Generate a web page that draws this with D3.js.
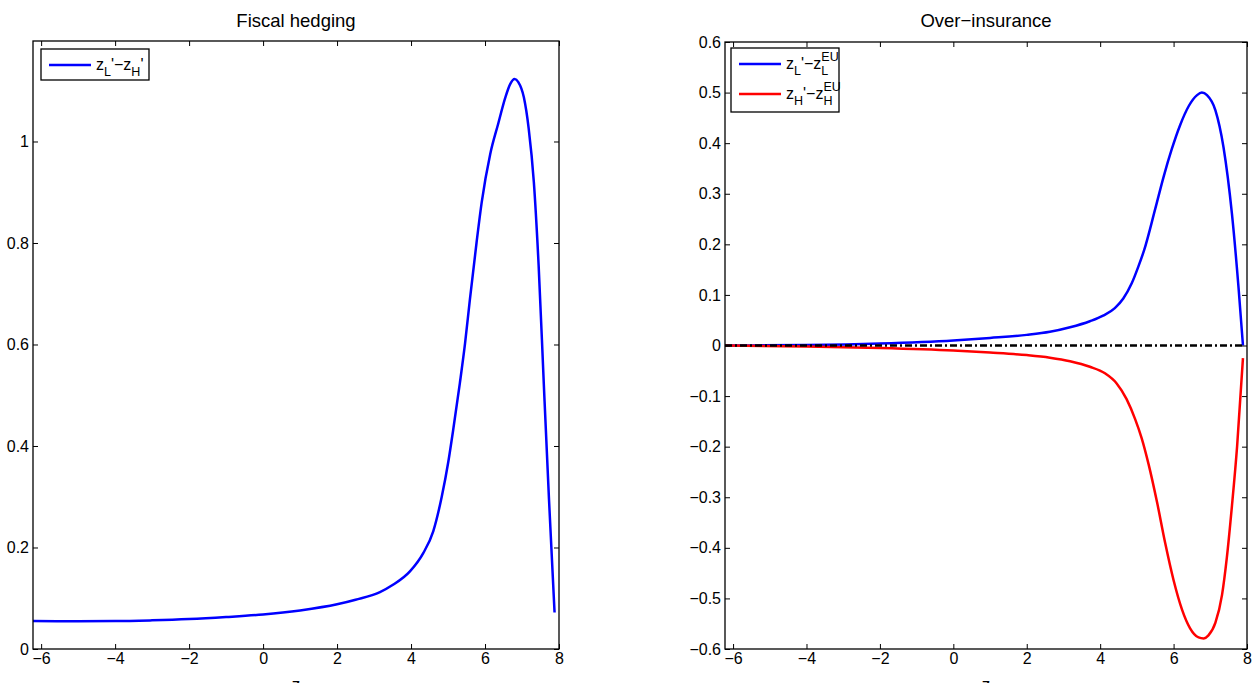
<!DOCTYPE html>
<html>
<head>
<meta charset="utf-8">
<script src="https://cdn.jsdelivr.net/npm/d3@7"></script>
<style>
  body { margin: 0; background: #fff; }
  text { font-family: "Liberation Sans", Arial, sans-serif; }
</style>
</head>
<body>
<div id="chart"></div>
<script>
var W = 1253, H = 683

// left panel: z_L' - z_H'
var zHedge = [-6.22, -5, -4, -3, -2, -1, 0, 1, 2, 2.5, 3.16, 3.5, 3.97, 4.33, 4.6, 4.83, 5.01, 5.14, 5.32, 5.46, 5.59, 5.77, 5.91, 6.14, 6.36, 6.55, 6.68, 6.8, 6.9, 7.05, 7.18, 7.32, 7.45, 7.59, 7.73, 7.88]
var hedge = [0.055, 0.0548, 0.055, 0.0565, 0.059, 0.063, 0.068, 0.076, 0.088, 0.097, 0.112, 0.126, 0.153, 0.189, 0.232, 0.30, 0.37, 0.432, 0.524, 0.602, 0.688, 0.80, 0.88, 0.975, 1.036, 1.087, 1.113, 1.123, 1.117, 1.087, 1.026, 0.92, 0.755, 0.521, 0.294, 0.072]

// right panel: z_L' - z_L^EU (blue)
var zOverL = [-6.22, -4, -2, 0, 1, 2, 2.63, 3.18, 3.72, 4.08, 4.4, 4.63, 4.86, 5.04, 5.2, 5.5, 5.73, 5.95, 6.18, 6.41, 6.64, 6.77, 6.91, 7.14, 7.36, 7.59, 7.77, 7.89]
var overL = [0.000, 0.001, 0.004, 0.010, 0.015, 0.021, 0.027, 0.036, 0.048, 0.059, 0.074, 0.093, 0.123, 0.156, 0.189, 0.27, 0.334, 0.388, 0.436, 0.473, 0.495, 0.5, 0.495, 0.465, 0.392, 0.26, 0.114, 0]

// right panel: z_H' - z_H^EU (red)
var zOverH = [-6.22, -4, -2, 0, 1, 2, 2.63, 3.18, 3.72, 4.13, 4.45, 4.72, 4.95, 5.13, 5.32, 5.55, 5.77, 6, 6.23, 6.45, 6.68, 6.82, 6.95, 7.14, 7.32, 7.45, 7.59, 7.73, 7.89]
var overH = [0, -0.002, -0.005, -0.010, -0.014, -0.019, -0.024, -0.031, -0.042, -0.055, -0.075, -0.106, -0.145, -0.183, -0.235, -0.31, -0.39, -0.464, -0.522, -0.559, -0.577, -0.579, -0.573, -0.548, -0.493, -0.42, -0.317, -0.2, -0.025]

// zero reference line
var zZero = [-6.22, 7.89]
var zero = [0, 0]

var xTicks = [-6, -4, -2, 0, 2, 4, 6, 8]
var yTicksLeft = [0, 0.2, 0.4, 0.6, 0.8, 1]
var yTicksRight = [-0.6, -0.5, -0.4, -0.3, -0.2, -0.1, 0, 0.1, 0.2, 0.3, 0.4, 0.5, 0.6]

var svg = d3.select("#chart").append("svg")
  .attr("width", W)
  .attr("height", H)

function pairs(xs, ys) {
  return xs.map(function(x, i) { return [x, ys[i]] })
}

var fmt = d3.format("~g")

function panel(opt) {
  var g = svg.append("g")
  var x = d3.scaleLinear().domain([-6.22, 8]).range([opt.left, opt.right])
  var y = d3.scaleLinear().domain(opt.ydom).range([opt.bottom, opt.top])

  var line = d3.line()
    .x(function(d) { return x(d[0]) })
    .y(function(d) { return y(d[1]) })
    .curve(d3.curveMonotoneX)

  opt.series.forEach(function(s) {
    g.append("path")
      .attr("d", line(pairs(s.x, s.y)))
      .attr("fill", "none")
      .attr("stroke", s.color)
      .attr("stroke-width", 2.5)
      .attr("stroke-dasharray", s.dash || null)
  })

  // axes, ticks pointing inward on all four sides
  var ax = [
    g.append("g").attr("transform", "translate(0," + opt.bottom + ")")
      .call(d3.axisBottom(x).tickValues(xTicks).tickSize(-5).tickPadding(4).tickFormat(fmt)),
    g.append("g").attr("transform", "translate(0," + opt.top + ")")
      .call(d3.axisTop(x).tickValues(xTicks).tickSize(-5).tickFormat("")),
    g.append("g").attr("transform", "translate(" + opt.left + ",0)")
      .call(d3.axisLeft(y).tickValues(opt.yticks).tickSize(-5).tickPadding(4).tickFormat(fmt)),
    g.append("g").attr("transform", "translate(" + opt.right + ",0)")
      .call(d3.axisRight(y).tickValues(opt.yticks).tickSize(-5).tickFormat(""))
  ]
  ax.forEach(function(a) {
    a.select(".domain").remove()
    a.selectAll("text").attr("font-size", 16).attr("fill", "#000")
      .style("font-family", "Liberation Sans, Arial, sans-serif")
    a.selectAll("line").attr("stroke", "#000")
  })

  g.append("rect")
    .attr("x", opt.left).attr("y", opt.top)
    .attr("width", opt.right - opt.left).attr("height", opt.bottom - opt.top)
    .attr("fill", "none").attr("stroke", "#000").attr("stroke-width", 1.3)

  var cx = (opt.left + opt.right) / 2
  g.append("text").attr("x", cx).attr("y", 27)
    .attr("text-anchor", "middle").attr("font-size", 18.5).text(opt.title)
  g.append("text").attr("x", cx).attr("y", 690)
    .attr("text-anchor", "middle").attr("font-size", 17).text("z")

  // legend
  var lg = g.append("g")
  var L = opt.legend
  lg.append("rect")
    .attr("x", L.x).attr("y", L.y).attr("width", L.w).attr("height", L.h)
    .attr("fill", "#fff").attr("stroke", "#000").attr("stroke-width", 1.3)
  L.items.forEach(function(it, i) {
    var ly = L.y + 16 + i * 30
    var lx = L.x + 8
    lg.append("line")
      .attr("x1", lx).attr("x2", lx + 42)
      .attr("y1", ly).attr("y2", ly)
      .attr("stroke", it.color).attr("stroke-width", 2.5)
    label(lg, lx + 47, ly + 5, it.parts)
  })
}

// draws a tex-like label from pieces
function label(g, x0, y0, parts) {
  var cur = x0, stackStart = null
  parts.forEach(function(p) {
    var size = p.k === "n" ? 16 : 12.5
    var dy = p.k === "sub" ? 6 : (p.k === "sup" ? -8 : 0)
    var px = cur
    if (p.k === "sub" && p.stack) px = stackStart
    var t = g.append("text").attr("x", px).attr("y", y0 + dy)
      .attr("font-size", size).text(p.t)
    var w = t.node().getComputedTextLength()
    if (p.k === "sup") stackStart = px
    cur = Math.max(cur, px + w)
  })
  return cur
}

panel({
  left: 33, right: 559, top: 41, bottom: 649,
  ydom: [0, 1.198], yticks: yTicksLeft,
  title: "Fiscal hedging",
  series: [{ x: zHedge, y: hedge, color: "#0000ff" }],
  legend: { x: 41, y: 49, w: 108, h: 31, items: [
    { color: "#0000ff", parts: [{t: "z", k: "n"}, {t: "L", k: "sub"}, {t: "'\u2212z", k: "n"}, {t: "H", k: "sub"}, {t: "'", k: "n"}] }
  ] }
})

panel({
  left: 725, right: 1247, top: 42, bottom: 649,
  ydom: [-0.6, 0.6], yticks: yTicksRight,
  title: "Over\u2212insurance",
  series: [
    { x: zOverL, y: overL, color: "#0000ff" },
    { x: zOverH, y: overH, color: "#ff0000" },
    { x: zZero, y: zero, color: "#000", dash: "7,3,2,3" }
  ],
  legend: { x: 731, y: 48, w: 108, h: 64, items: [
    { color: "#0000ff", parts: [{t: "z", k: "n"}, {t: "L", k: "sub"}, {t: "'\u2212z", k: "n"}, {t: "EU", k: "sup"}, {t: "L", k: "sub", stack: true}] },
    { color: "#ff0000", parts: [{t: "z", k: "n"}, {t: "H", k: "sub"}, {t: "'\u2212z", k: "n"}, {t: "EU", k: "sup"}, {t: "H", k: "sub", stack: true}] }
  ] }
})
</script>
</body>
</html>
